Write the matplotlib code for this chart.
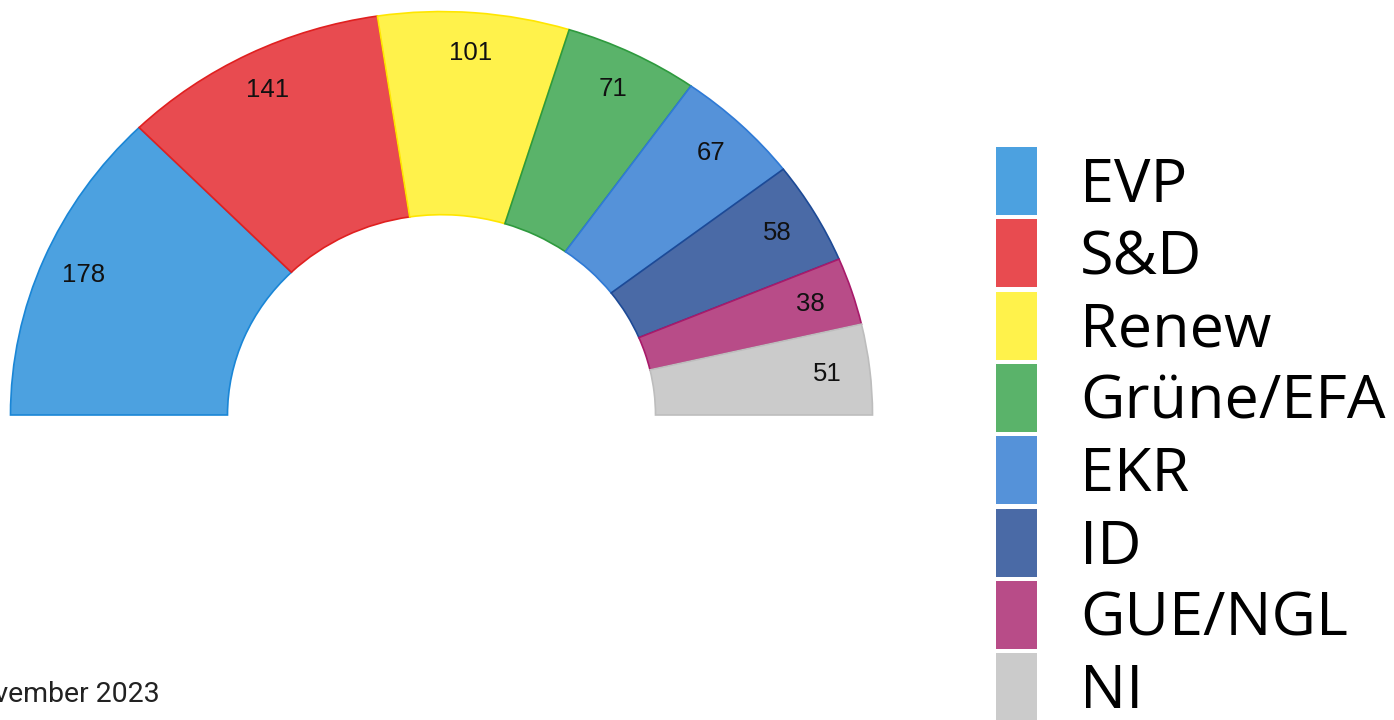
import matplotlib
matplotlib.use("Agg")
import numpy as np
import matplotlib.pyplot as plt
from matplotlib.patches import Wedge, Rectangle

parteien = ["EVP", "S&D", "Renew", "Grüne/EFA", "EKR", "ID", "GUE/NGL", "NI"]
sitze = [178, 141, 101, 71, 67, 58, 38, 51]
farben = ["#4ca1e0", "#e84b50", "#fff24b", "#5ab36a", "#5592d9", "#4a6aa6", "#b84c88", "#cbcbcb"]
kanten = ["#1a86d6", "#e02020", "#ffe600", "#2e9a3e", "#2f7ad6", "#1d4a96", "#a81a6a", "#bdbdbd"]
stand = "Stand: November 2023"

fig = plt.figure(figsize=(13.94, 7.2), dpi=100)

# Halbkreis etwas gestaucht (y-Skala) wie im Original
stauchung = 0.936
ax = fig.add_axes([0, 0, 1, 1])
ax.set_xlim(0, 1394)
ax.set_ylim(0, 720 / stauchung)
ax.axis("off")

mitte = (441.5, 305 / stauchung)
r_aussen = 431
r_innen = 214
r_text = 388
gesamt = sum(sitze)

winkel = 180.0
for wert, farbe, kante in zip(sitze, farben, kanten):
    breite = wert / gesamt * 180.0
    t1, t2 = winkel - breite, winkel
    ax.add_patch(Wedge(mitte, r_aussen, t1, t2, width=r_aussen - r_innen,
                       facecolor=farbe, edgecolor=kante, linewidth=1.2))
    m = np.deg2rad(winkel - breite / 2)
    ax.text(mitte[0] + r_text * np.cos(m), mitte[1] + r_text * np.sin(m), str(wert),
            ha="center", va="center", fontsize=18.5, family="Liberation Sans", color="#111111")
    winkel = t1

# Legende und Fußzeile in Pixelkoordinaten
lg = fig.add_axes([0, 0, 1, 1])
lg.set_xlim(0, 1394)
lg.set_ylim(0, 720)
lg.axis("off")
for i, (name, farbe) in enumerate(zip(parteien, farben)):
    y_oben = 720 - 147 - i * 72.3
    lg.add_patch(Rectangle((996, y_oben - 68), 41, 68, facecolor=farbe, edgecolor="none"))
    lg.text(1080, y_oben - 39, name, ha="left", va="center", fontsize=44,
            family="Open Sans", color="black")

lg.text(160, 25, stand, ha="right", va="center", fontsize=20.5, family="Roboto", color="#222222")

fig.savefig("out.png", dpi=100)
